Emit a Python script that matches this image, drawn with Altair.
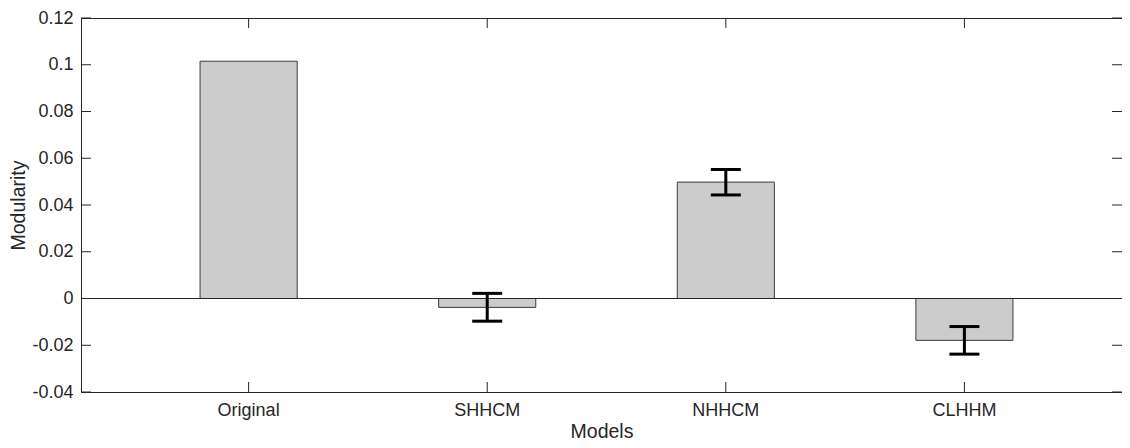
import altair as alt
import pandas as pd

# ---- data ----
models = ["Original", "SHHCM", "NHHCM", "CLHHM"]
modularity = [0.1015, -0.0038, 0.0498, -0.0179]
err_low = [None, -0.0097, 0.0443, -0.0238]
err_high = [None, 0.0022, 0.0552, -0.0120]
y_ticks = [-0.04, -0.02, 0, 0.02, 0.04, 0.06, 0.08, 0.1, 0.12]
y_tick_labels = ["-0.04", "-0.02", "0", "0.02", "0.04", "0.06", "0.08", "0.1", "0.12"]

W, H = 1041, 374
AX = "#262626"
FONT = "Liberation Sans"

df = pd.DataFrame({"Model": models, "Modularity": modularity, "lo": err_low, "hi": err_high})
err_df = df.dropna()
ticks_df = pd.DataFrame({"v": y_ticks})
zero_df = pd.DataFrame({"z": [0.0]})
cat_df = pd.DataFrame({"Model": models})

x_scale = alt.Scale(domain=models, paddingInner=0.593, paddingOuter=0.478, align=0.522)
y_scale = alt.Scale(domain=[-0.04, 0.12], nice=False)

label_expr = ("[" + ",".join(f"'{s}'" for s in y_tick_labels) + "][indexof(["
              + ",".join(repr(float(v)) for v in y_ticks) + "], datum.value)]")

xax = alt.Axis(title="Models", ticks=False, tickSize=0, domain=False, grid=False,
               labelAngle=0, labelPadding=9, titlePadding=3)
yax = alt.Axis(title="Modularity", values=y_ticks, labelExpr=label_expr, ticks=False,
               tickSize=0, domain=False, grid=False, labelPadding=8, titlePadding=3)


def X(field="Model"):
    return alt.X(f"{field}:N", scale=x_scale, sort=models, axis=xax)


def Y(field):
    return alt.Y(f"{field}:Q", scale=y_scale, axis=yax)


bars = alt.Chart(df).mark_bar(color="#cccccc", stroke="#3c3c3c", strokeWidth=1).encode(
    x=X(), y=Y("Modularity")
)

zero_line = alt.Chart(zero_df).mark_rule(color=AX, strokeWidth=1).encode(
    y=Y("z"), x=alt.value(0), x2=alt.value(W)
)

err_rule = alt.Chart(err_df).mark_rule(color="black", strokeWidth=3).encode(
    x=X(), y=Y("lo"), y2="hi:Q"
)
cap_lo = alt.Chart(err_df).mark_tick(color="black", thickness=3, size=30, opacity=1).encode(
    x=X(), y=Y("lo")
)
cap_hi = alt.Chart(err_df).mark_tick(color="black", thickness=3, size=30, opacity=1).encode(
    x=X(), y=Y("hi")
)

left_ticks = alt.Chart(ticks_df).mark_rule(color=AX).encode(
    y=Y("v"), x=alt.value(0), x2=alt.value(10)
)
right_ticks = alt.Chart(ticks_df).mark_rule(color=AX).encode(
    y=Y("v"), x=alt.value(W - 10), x2=alt.value(W)
)
bottom_ticks = alt.Chart(cat_df).mark_rule(color=AX).encode(
    x=X(), y=alt.value(H - 10), y2=alt.value(H)
)
top_ticks = alt.Chart(cat_df).mark_rule(color=AX).encode(
    x=X(), y=alt.value(0), y2=alt.value(10)
)

chart = alt.layer(
    bars, zero_line, err_rule, cap_lo, cap_hi, left_ticks, right_ticks, bottom_ticks, top_ticks
).properties(
    width=W, height=H,
    autosize="none",
    padding={"left": 73, "top": 10, "right": 0, "bottom": 48},
    background="white",
).configure_view(
    stroke=AX, strokeWidth=1
).configure_axis(
    labelFont=FONT, titleFont=FONT, labelFontSize=18, titleFontSize=19.5,
    labelColor=AX, titleColor=AX, titleFontWeight="normal",
)

chart.save("out.html", embed_options={"renderer": "svg", "actions": False})
